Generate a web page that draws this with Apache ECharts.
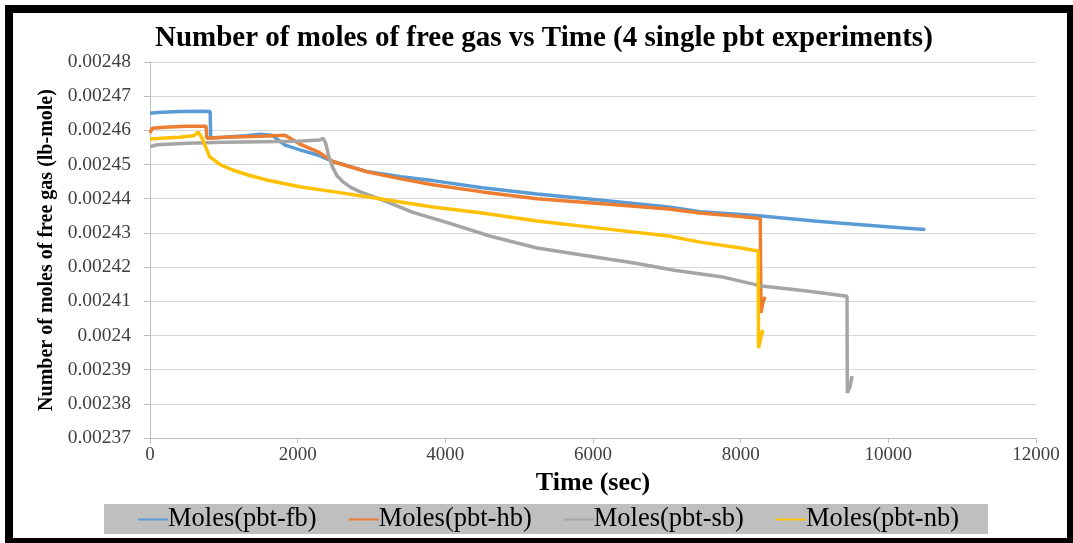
<!DOCTYPE html>
<html><head><meta charset="utf-8">
<script src="https://cdn.jsdelivr.net/npm/echarts@6/dist/echarts.min.js"></script>
<style>
html,body{margin:0;padding:0;background:#fff;}
#chart{width:1073px;height:543px;}
#frame{position:absolute;left:5px;top:5px;width:1068px;height:538px;box-sizing:border-box;border-style:solid;border-color:#000;border-width:8px 6px 5px 8px;pointer-events:none;}
</style></head>
<body><div id="chart"></div><div id="frame"></div>
<script>
const seriesNames = ['Moles(pbt-fb)', 'Moles(pbt-hb)', 'Moles(pbt-sb)', 'Moles(pbt-nb)'];

const fbTime  = [0, 100, 400, 700, 815, 822, 1000, 1300, 1500, 1650, 1830, 2030, 2270, 2475, 2935, 3400, 3830, 4500, 5242, 6083, 7024, 7451, 8244, 9000, 9371, 10163, 10500];
const fbMoles = [0.0024650, 0.0024652, 0.0024655, 0.0024656, 0.0024655, 0.0024578, 0.0024580, 0.0024584, 0.0024589, 0.0024586, 0.0024557, 0.0024543, 0.0024528, 0.0024509, 0.0024480, 0.0024464, 0.0024453, 0.0024432, 0.0024414, 0.0024396, 0.0024376, 0.0024362, 0.0024350, 0.0024335, 0.0024328, 0.0024315, 0.0024310];

const hbTime  = [0, 30, 200, 500, 760, 770, 1000, 1500, 1830, 2030, 2270, 2475, 2935, 3400, 3830, 4500, 5242, 6083, 7024, 7451, 8000, 8265, 8275, 8300, 8330];
const hbMoles = [0.0024592, 0.0024606, 0.0024609, 0.0024612, 0.0024612, 0.0024577, 0.0024580, 0.0024583, 0.0024586, 0.0024560, 0.0024538, 0.0024509, 0.0024479, 0.0024458, 0.0024441, 0.0024420, 0.0024400, 0.0024386, 0.0024370, 0.0024358, 0.0024348, 0.0024342, 0.0024066, 0.0024095, 0.0024113];

const sbTime  = [0, 100, 500, 1000, 1500, 2000, 2298, 2345, 2380, 2420, 2470, 2530, 2610, 2720, 2840, 3153, 3560, 4029, 4600, 5242, 5960, 6557, 7100, 7729, 8278, 8900, 9440, 9445, 9480, 9510];
const sbMoles = [0.0024552, 0.0024558, 0.0024562, 0.0024565, 0.0024567, 0.0024568, 0.0024572, 0.0024577, 0.0024562, 0.0024525, 0.0024494, 0.0024468, 0.0024450, 0.0024433, 0.0024421, 0.0024396, 0.0024360, 0.0024330, 0.0024291, 0.0024256, 0.0024232, 0.0024212, 0.0024191, 0.0024172, 0.0024145, 0.0024130, 0.0024115, 0.0023832, 0.0023850, 0.0023881];

const nbTime  = [0, 200, 400, 600, 650, 700, 807, 950, 1120, 1350, 1580, 2027, 2500, 2935, 3830, 4500, 5242, 6083, 7024, 7451, 8000, 8237, 8242, 8270, 8300];
const nbMoles = [0.0024575, 0.0024578, 0.0024580, 0.0024585, 0.0024595, 0.0024580, 0.0024523, 0.0024500, 0.0024484, 0.0024468, 0.0024455, 0.0024435, 0.0024420, 0.0024406, 0.0024376, 0.0024358, 0.0024335, 0.0024314, 0.0024291, 0.0024273, 0.0024256, 0.0024247, 0.0023963, 0.0023990, 0.0024016];

const colors = ['#5B9BD5', '#ED7D31', '#A5A5A5', '#FFC000'];
const times = [fbTime, hbTime, sbTime, nbTime];
const moles = [fbMoles, hbMoles, sbMoles, nbMoles];

const FONT = '"Liberation Serif", "Times New Roman", serif';
const chart = echarts.init(document.getElementById('chart'), null, {renderer: 'canvas'});

chart.setOption({
  animation: false,
  backgroundColor: '#fff',
  color: colors,
  title: {
    text: 'Number of moles of free gas vs Time (4 single pbt experiments)',
    left: 150,
    top: 19,
    textStyle: {fontFamily: FONT, fontSize: 29, fontWeight: 'bold', color: '#000'}
  },
  grid: {left: 150, right: 37, top: 62, bottom: 105, containLabel: false},
  legend: {
    left: 104,
    top: 504,
    backgroundColor: '#BFBFBF',
    padding: [2, 29, 1, 34],
    itemGap: 32,
    itemWidth: 30,
    itemHeight: 2,
    icon: 'rect',
    textStyle: {fontFamily: FONT, fontSize: 26.5, color: '#000', padding: [0, 0, 0, -5], lineHeight: 26},
    data: seriesNames
  },
  xAxis: {
    type: 'value', min: 0, max: 12000, interval: 2000,
    name: 'Time (sec)', nameLocation: 'middle', nameGap: 30,
    nameTextStyle: {fontFamily: FONT, fontSize: 26, fontWeight: 'bold', color: '#000'},
    axisLine: {lineStyle: {color: '#BFBFBF', width: 1}},
    axisTick: {show: true, length: 5, lineStyle: {color: '#BFBFBF'}},
    axisLabel: {fontFamily: FONT, fontSize: 19, color: '#404040', margin: 8,
      formatter: v => String(v)},
    splitLine: {show: false}
  },
  yAxis: {
    type: 'value', min: 0.00237, max: 0.00248, interval: 0.00001,
    name: 'Number of moles of free gas (lb-mole)', nameLocation: 'middle', nameGap: 93,
    nameTextStyle: {fontFamily: FONT, fontSize: 20, fontWeight: 'bold', color: '#000'},
    axisLine: {show: true, lineStyle: {color: '#BFBFBF', width: 1}},
    axisTick: {show: true, length: 6, lineStyle: {color: '#BFBFBF'}},
    axisLabel: {fontFamily: FONT, fontSize: 19.5, color: '#404040', margin: 19,
      formatter: v => String(parseFloat(v.toFixed(5)))},
    splitLine: {lineStyle: {color: '#D9D9D9', width: 1}}
  },
  series: seriesNames.map((n, i) => ({
    name: n,
    type: 'line',
    showSymbol: false,
    symbol: 'none',
    lineStyle: {width: 3.5, color: colors[i]},
    data: times[i].map((t, k) => [t, moles[i][k]])
  }))
});
</script>
</body></html>
